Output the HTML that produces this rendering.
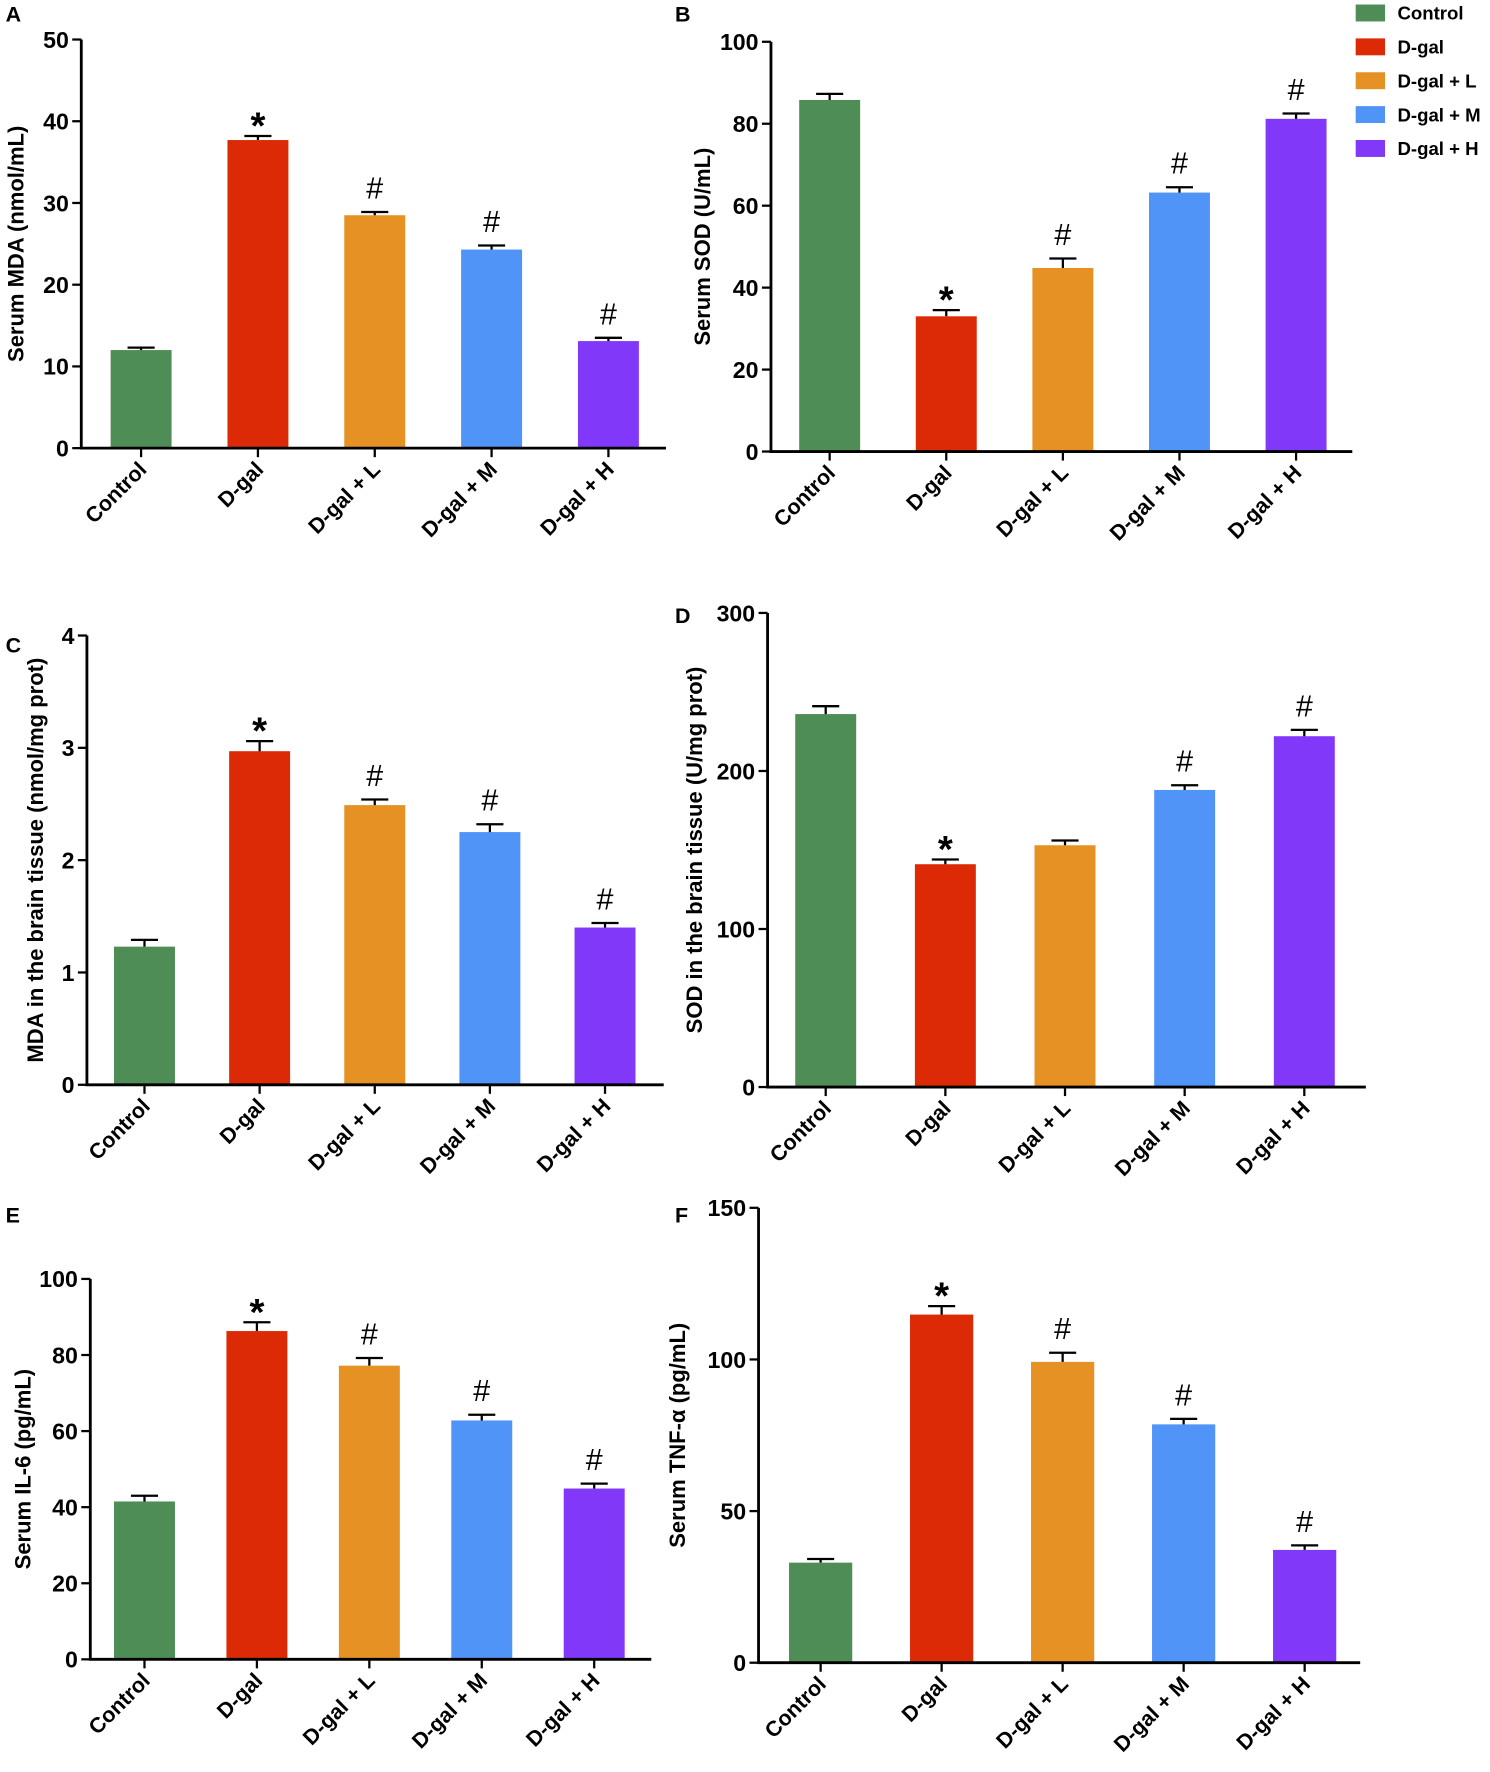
<!DOCTYPE html>
<html><head><meta charset="utf-8"><style>
html,body{margin:0;padding:0;background:#fff;}
svg{display:block;font-family:"Liberation Sans",Arial,sans-serif;font-weight:bold;}
</style></head><body>
<svg id="fig" width="1490" height="1772" viewBox="0 0 1320 1569.8" xmlns="http://www.w3.org/2000/svg"></svg>
<script>
// ---- data ----
const categories = ["Control","D-gal","D-gal + L","D-gal + M","D-gal + H"];
const colors = ["#4e8d55","#dc2a06","#e69124","#5194f8","#8238f8"];
const valuesA = [12.0, 37.7, 28.5, 24.3, 13.1];
const errorsA = [0.3, 0.5, 0.4, 0.5, 0.4];
const marksA = ["", "*", "#", "#", "#"];
const ticksA = [0,10,20,30,40,50];
const valuesB = [85.8, 33.0, 44.8, 63.2, 81.2];
const errorsB = [1.5, 1.5, 2.3, 1.3, 1.3];
const marksB = ["", "*", "#", "#", "#"];
const ticksB = [0,20,40,60,80,100];
const valuesC = [1.23, 2.97, 2.49, 2.25, 1.40];
const errorsC = [0.06, 0.09, 0.05, 0.07, 0.04];
const marksC = ["", "*", "#", "#", "#"];
const ticksC = [0,1,2,3,4];
const valuesD = [236, 141, 153, 188, 222];
const errorsD = [5, 3, 3, 3, 4];
const marksD = ["", "*", "", "#", "#"];
const ticksD = [0,100,200,300];
const valuesE = [41.5, 86.3, 77.2, 62.8, 44.9];
const errorsE = [1.5, 2.3, 2.0, 1.5, 1.3];
const marksE = ["", "*", "#", "#", "#"];
const ticksE = [0,20,40,60,80,100];
const valuesF = [33.0, 114.8, 99.2, 78.6, 37.2];
const errorsF = [1.2, 2.8, 3.0, 1.8, 1.5];
const marksF = ["", "*", "#", "#", "#"];
const ticksF = [0,50,100,150];

const NS = "http://www.w3.org/2000/svg";
const svg = document.getElementById("fig");
function mk(tag, attrs, parent, text){
  const e = document.createElementNS(NS, tag);
  for (const k in attrs) e.setAttribute(k, attrs[k]);
  if (text !== undefined) e.textContent = text;
  (parent||svg).appendChild(e);
  return e;
}

function panel(p, values, errors, marks, ticks){
  const g = mk("g", {});
  
  
  const ymax = ticks[ticks.length-1];
  const yS = v => p.y0 - (v / ymax) * (p.y0 - p.yTop);
  const cx = i => p.c0 + i * p.step;
  const bw = p.bw || 54;
  const lab = mk("text", {x:p.lx, y:p.ly, "font-size":19}, g, p.letter);
  
  
  values.forEach((v, i) => {
    const x = cx(i);
    const top = yS(v);
    const r = mk("rect", {x:x-bw/2, y:top, width:bw, height:p.y0-top, fill:colors[i]}, g);
    
    
    const et = yS(v + errors[i]);
    const eb = mk("path", {d:`M${x} ${top}V${et}M${x-12} ${et}H${x+12}`, stroke:"#000", "stroke-width":2, fill:"none"}, g);
    
    
    if (marks[i]) {
      const isStar = marks[i] === "*";
      const m = mk("text", {x:x, y:et - (isStar ? 12 : 12), "text-anchor":"middle",
        "font-size": isStar ? 34 : 27, "font-weight": isStar ? "bold" : "normal",
        dy: isStar ? "0.42em" : "0"}, g, marks[i]);
      
      
    }
    mk("line", {x1:x, y1:p.y0, x2:x, y2:p.y0+8, stroke:"#000", "stroke-width":2}, g);
    const t = mk("text", {x:0, y:0, "text-anchor":"end", "font-size":19,
      transform:`translate(${x+6},${p.y0+20}) rotate(-45)`}, g, categories[i]);
    
    
  });
  const ax = mk("path", {d:`M${p.ax} ${p.yTop}V${p.y0}H${p.xEnd}`, stroke:"#000", "stroke-width":2.5, fill:"none"}, g);
  
  
  ticks.forEach(tv => {
    const y = yS(tv);
    mk("line", {x1:p.ax-8, y1:y, x2:p.ax, y2:y, stroke:"#000", "stroke-width":2}, g);
    const tl = mk("text", {x:p.ax-11, y:y, dy:"0.36em", "text-anchor":"end", "font-size":20.5}, g, String(tv));
    
    
  });
  const yt = mk("text", {x:0, y:0, "text-anchor":"middle", "font-size":19.5,
    transform:`translate(${p.tx},${(p.yTop+p.y0)/2}) rotate(-90)`}, g, p.title);
  
  
}

panel({letter:"A", lx:5, ly:19, ax:72, yTop:35, y0:397, xEnd:590, c0:125, step:103.5, tx:21, title:"Serum MDA (nmol/mL)"}, valuesA, errorsA, marksA, ticksA);
panel({letter:"B", lx:598, ly:19, ax:683, yTop:37, y0:400, xEnd:1198, c0:735, step:103.3, tx:629, title:"Serum SOD (U/mL)"}, valuesB, errorsB, marksB, ticksB);
panel({letter:"C", lx:5, ly:578, ax:77, yTop:563, y0:961, xEnd:588, c0:128, step:102, tx:38, title:"MDA in the brain tissue (nmol/mg prot)"}, valuesC, errorsC, marksC, ticksC);
panel({letter:"D", lx:598, ly:552, ax:680, yTop:543, y0:963, xEnd:1210, c0:731.5, step:106, tx:622, title:"SOD in the brain tissue (U/mg prot)"}, valuesD, errorsD, marksD, ticksD);
panel({letter:"E", lx:5, ly:1083, ax:80, yTop:1133, y0:1470, xEnd:577, c0:128, step:99.6, tx:27, title:"Serum IL-6 (pg/mL)"}, valuesE, errorsE, marksE, ticksE);
panel({letter:"F", lx:598, ly:1083, ax:672, yTop:1070, y0:1473, xEnd:1205, c0:727, step:107.2, bw:56, tx:607, title:"Serum TNF-α (pg/mL)"}, valuesF, errorsF, marksF, ticksF);

const leg = mk("g", {});


categories.forEach((c, i) => {
  const y = 4 + i * 30;
  const r = mk("rect", {x:1201, y:y, width:26, height:15, fill:colors[i]}, leg);
  
  
  const t = mk("text", {x:1238, y:y+7.5, dy:"0.36em", "font-size":16.5}, leg, c);
  
  
});
</script>
</body></html>
